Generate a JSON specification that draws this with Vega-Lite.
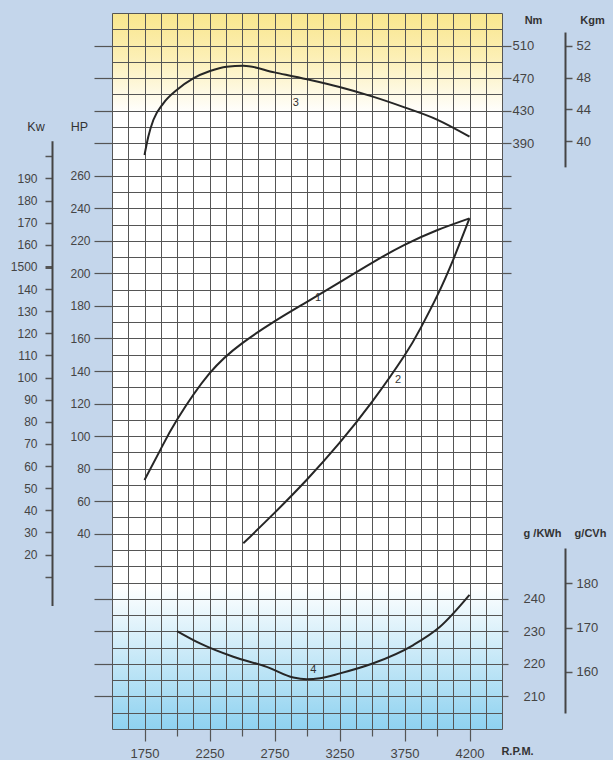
{
  "$schema": "https://vega.github.io/schema/vega-lite/v6.json",
  "autosize": {"type": "none"},
  "width": 390,
  "height": 716,
  "padding": {"left": 112, "top": 13, "right": 111, "bottom": 31},
  "background": "#c4d6eb",
  "config": {
    "view": {
      "stroke": null,
      "fill": {
        "gradient": "linear", "x1": 0, "y1": 0, "x2": 0, "y2": 1,
        "stops": [
          {"offset": 0, "color": "#f9e68c"},
          {"offset": 0.06, "color": "#fcefb4"},
          {"offset": 0.14, "color": "#ffffff"},
          {"offset": 0.8, "color": "#ffffff"},
          {"offset": 1, "color": "#8fd2f0"}
        ]
      }
    },
    "axis": {"labelFont": "Liberation Sans", "titleFont": "Liberation Sans", "labelColor": "#444", "titleColor": "#333", "tickColor": "#555", "domainColor": "#444", "labelOverlap": false, "labelBound": false, "labelFlush": false}
  },
  "datasets": {
    "power": [
      {"curve": "1", "rpm": 1750, "hp": 73.0},
      {"curve": "1", "rpm": 1875, "hp": 92.0},
      {"curve": "1", "rpm": 2000, "hp": 110.0},
      {"curve": "1", "rpm": 2250, "hp": 138.5},
      {"curve": "1", "rpm": 2500, "hp": 157.0},
      {"curve": "1", "rpm": 2750, "hp": 170.5},
      {"curve": "1", "rpm": 3000, "hp": 182.5},
      {"curve": "1", "rpm": 3250, "hp": 194.5},
      {"curve": "1", "rpm": 3500, "hp": 206.5},
      {"curve": "1", "rpm": 3750, "hp": 217.5},
      {"curve": "1", "rpm": 4000, "hp": 226.5},
      {"curve": "1", "rpm": 4250, "hp": 233.8},
      {"curve": "2", "rpm": 2510, "hp": 34.1},
      {"curve": "2", "rpm": 2750, "hp": 52.8},
      {"curve": "2", "rpm": 3000, "hp": 73.3},
      {"curve": "2", "rpm": 3250, "hp": 95.8},
      {"curve": "2", "rpm": 3500, "hp": 121.0},
      {"curve": "2", "rpm": 3750, "hp": 149.5},
      {"curve": "2", "rpm": 3875, "hp": 166.5},
      {"curve": "2", "rpm": 4000, "hp": 186.0},
      {"curve": "2", "rpm": 4125, "hp": 208.5},
      {"curve": "2", "rpm": 4250, "hp": 233.8}
    ],
    "torque": [
      {"rpm": 1750, "nm": 375.5},
      {"rpm": 1779, "nm": 398.0},
      {"rpm": 1818, "nm": 418.5},
      {"rpm": 1895, "nm": 439.0},
      {"rpm": 1998, "nm": 455.4},
      {"rpm": 2125, "nm": 469.7},
      {"rpm": 2254, "nm": 478.7},
      {"rpm": 2382, "nm": 484.0},
      {"rpm": 2510, "nm": 485.2},
      {"rpm": 2750, "nm": 477.0},
      {"rpm": 3000, "nm": 468.5},
      {"rpm": 3250, "nm": 459.0},
      {"rpm": 3500, "nm": 447.5},
      {"rpm": 3750, "nm": 434.0},
      {"rpm": 4000, "nm": 419.0},
      {"rpm": 4250, "nm": 398.0}
    ],
    "consumption": [
      {"rpm": 2000, "g": 230.1},
      {"rpm": 2177, "g": 226.3},
      {"rpm": 2433, "g": 222.2},
      {"rpm": 2690, "g": 219.1},
      {"rpm": 2895, "g": 215.8},
      {"rpm": 2998, "g": 215.3},
      {"rpm": 3100, "g": 215.6},
      {"rpm": 3254, "g": 217.1},
      {"rpm": 3510, "g": 220.2},
      {"rpm": 3818, "g": 225.8},
      {"rpm": 4023, "g": 231.4},
      {"rpm": 4250, "g": 241.2}
    ],
    "labels": [
      {"label": "1", "rpm": 3085, "hp": 184.8},
      {"label": "2", "rpm": 3700, "hp": 134.4},
      {"label": "3", "rpm": 2913, "hp": 304.7},
      {"label": "4", "rpm": 3048, "hp": -43.8}
    ]
  },
  "resolve": {
    "scale": {"x": "independent", "y": "independent"},
    "axis": {"x": "independent", "y": "independent"}
  },
  "layer": [
    {
      "data": {"name": "power"},
      "mark": {"type": "line", "interpolate": "natural", "color": "#262626", "strokeWidth": 2},
      "encoding": {
        "detail": {"field": "curve"},
        "x": {
          "field": "rpm", "type": "quantitative",
          "scale": {"domain": [1500, 4500], "nice": false, "zero": false},
          "axis": {
            "orient": "bottom",
            "values": [1500,1625,1750,1875,2000,2125,2250,2375,2500,2625,2750,2875,3000,3125,3250,3375,3500,3625,3750,3875,4000,4125,4250,4375,4500],
            "grid": true, "gridColor": "#555", "gridWidth": 1, "gridOpacity": 1,
            "domain": false, "labels": false, "title": null,
            "tickSize": 7, "tickWidth": 1.2,
            "tickOpacity": {"condition": {"test": "datum.value % 500 === 0 && datum.value > 1500 && datum.value < 4500", "value": 1}, "value": 0}
          }
        },
        "y": {
          "field": "hp", "type": "quantitative",
          "scale": {"domain": [-80, 360], "nice": false, "zero": false},
          "axis": {
            "orient": "left",
            "values": [-80,-70,-60,-50,-40,-30,-20,-10,0,10,20,30,40,50,60,70,80,90,100,110,120,130,140,150,160,170,180,190,200,210,220,230,240,250,260,270,280,290,300,310,320,330,340,350,360],
            "grid": true, "gridColor": "#555", "gridWidth": 1, "gridOpacity": 1,
            "domain": false, "tickSize": 18, "tickWidth": 1.2,
            "tickOpacity": {"condition": {"test": "datum.value % 20 === 0 && datum.value > -80 && datum.value < 360", "value": 1}, "value": 0},
            "labelExpr": "datum.value >= 40 && datum.value <= 260 && datum.value % 20 === 0 ? datum.label : ''",
            "labelPadding": 4, "labelFontSize": 12,
            "title": "HP", "titleX": -33, "titleY": 113, "titleAngle": 0, "titleAlign": "center", "titleBaseline": "middle", "titleFontWeight": "normal", "titleFontSize": 12.5
          }
        }
      }
    },
    {
      "data": {"name": "torque"},
      "mark": {"type": "line", "interpolate": "monotone", "color": "#262626", "strokeWidth": 2},
      "encoding": {
        "x": {
          "field": "rpm", "type": "quantitative",
          "scale": {"domain": [1500, 4500], "nice": false, "zero": false},
          "axis": {
            "orient": "bottom",
            "values": [1750, 2250, 2750, 3250, 3750, 4250],
            "format": "d", "grid": false, "domain": false,
            "tickSize": 12, "tickWidth": 1.2,
            "labelExpr": "datum.value === 4250 ? '4200' : datum.label",
            "labelPadding": 6, "labelFontSize": 13,
            "title": "R.P.M.", "titleX": 405, "titleY": 22, "titleAlign": "center", "titleBaseline": "middle", "titleFontWeight": "bold", "titleFontSize": 11
          }
        },
        "y": {
          "field": "nm", "type": "quantitative",
          "scale": {"domain": [-330, 550], "nice": false, "zero": false},
          "axis": {
            "orient": "right",
            "values": [230, 270, 310, 350, 390, 430, 470, 510],
            "grid": false, "domain": false, "tickSize": 9, "tickWidth": 1.2,
            "labelExpr": "datum.value >= 390 ? datum.label : ''",
            "labelPadding": 1, "labelFontSize": 13,
            "title": "Nm", "titleX": 31, "titleY": 7, "titleAngle": 0, "titleAlign": "center", "titleBaseline": "middle", "titleFontWeight": "bold", "titleFontSize": 11
          }
        }
      }
    },
    {
      "data": {"name": "consumption"},
      "mark": {"type": "line", "interpolate": "monotone", "color": "#262626", "strokeWidth": 2},
      "encoding": {
        "x": {
          "field": "rpm", "type": "quantitative",
          "scale": {"domain": [1500, 4500], "nice": false, "zero": false},
          "axis": null
        },
        "y": {
          "field": "g", "type": "quantitative",
          "scale": {"domain": [200, 420], "nice": false, "zero": false},
          "axis": {
            "orient": "right",
            "values": [210, 220, 230, 240],
            "grid": false, "domain": false, "tickSize": 6, "tickWidth": 1.2,
            "labelPadding": 15, "labelFontSize": 13,
            "title": "g /KWh", "titleX": 40, "titleY": 520, "titleAngle": 0, "titleAlign": "center", "titleBaseline": "middle", "titleFontWeight": "bold", "titleFontSize": 11
          }
        }
      }
    },
    {
      "data": {"values": [{}]},
      "mark": {"type": "point", "opacity": 0},
      "encoding": {
        "y": {
          "datum": 100, "type": "quantitative",
          "scale": {"domain": [-3, 207], "range": [592.47, 127.84], "nice": false, "zero": false},
          "axis": {
            "orient": "left", "offset": 60,
            "values": [10,20,30,40,50,60,70,80,90,100,110,120,130,140,150,160,170,180,190,200],
            "grid": false, "domain": true, "domainWidth": 2, "tickSize": 7,
            "tickWidth": {"condition": {"test": "datum.value === 150", "value": 3}, "value": 1.5},
            "labelExpr": "datum.value === 150 ? '1500' : (datum.value === 10 || datum.value === 200 ? '' : datum.label)",
            "labelPadding": 8, "labelFontSize": 12,
            "title": "Kw", "titleX": -16.5, "titleY": 113, "titleAngle": 0, "titleAlign": "center", "titleBaseline": "middle", "titleFontWeight": "normal", "titleFontSize": 12.5
          }
        }
      }
    },
    {
      "data": {"values": [{}]},
      "mark": {"type": "point", "opacity": 0},
      "encoding": {
        "y": {
          "datum": 45, "type": "quantitative",
          "scale": {"domain": [36.8, 53.7], "range": [153.87, 19.02], "nice": false, "zero": false},
          "axis": {
            "orient": "right", "offset": 63,
            "values": [40, 44, 48, 52],
            "grid": false, "domain": true, "domainWidth": 2, "tickSize": 7, "tickWidth": 1.5,
            "labelPadding": 4, "labelFontSize": 13,
            "title": "Kgm", "titleX": 27, "titleY": 7, "titleAngle": 0, "titleAlign": "center", "titleBaseline": "middle", "titleFontWeight": "bold", "titleFontSize": 11
          }
        }
      }
    },
    {
      "data": {"values": [{}]},
      "mark": {"type": "point", "opacity": 0},
      "encoding": {
        "y": {
          "datum": 170, "type": "quantitative",
          "scale": {"domain": [150.7, 188.0], "range": [700, 535], "nice": false, "zero": false},
          "axis": {
            "orient": "right", "offset": 63,
            "values": [160, 170, 180],
            "grid": false, "domain": true, "domainWidth": 2, "tickSize": 7, "tickWidth": 1.5,
            "labelPadding": 4, "labelFontSize": 13,
            "title": "g/CVh", "titleX": 25, "titleY": 520, "titleAngle": 0, "titleAlign": "center", "titleBaseline": "middle", "titleFontWeight": "bold", "titleFontSize": 11
          }
        }
      }
    },
    {
      "data": {"name": "labels"},
      "mark": {"type": "text", "font": "Liberation Sans", "fontSize": 11, "color": "#333", "align": "center", "baseline": "middle"},
      "encoding": {
        "text": {"field": "label"},
        "x": {"field": "rpm", "type": "quantitative", "scale": {"domain": [1500, 4500], "nice": false, "zero": false}, "axis": null},
        "y": {"field": "hp", "type": "quantitative", "scale": {"domain": [-80, 360], "nice": false, "zero": false}, "axis": null}
      }
    }
  ]
}
